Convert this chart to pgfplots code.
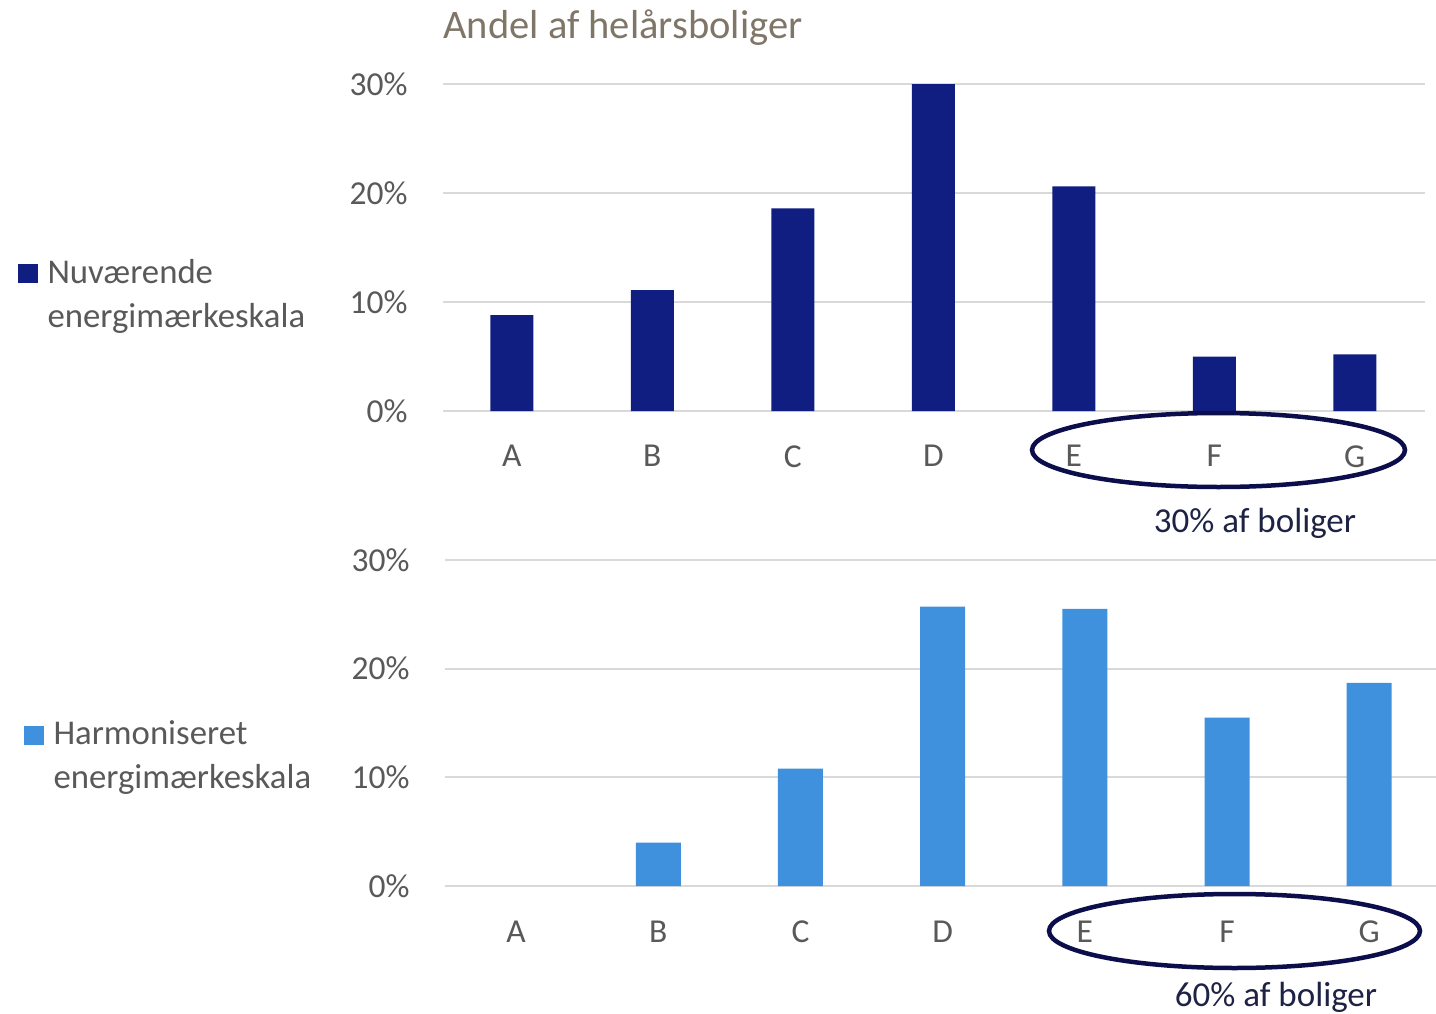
\documentclass[border=0pt]{standalone}
\usepackage{fontspec}
\setmainfont{Carlito}
\usepackage{pgfplots}
\pgfplotsset{compat=1.18}
\definecolor{navy}{HTML}{0F1E80}
\definecolor{lblue}{HTML}{3F91DE}
\definecolor{ticktxt}{HTML}{595959}
\definecolor{gridc}{HTML}{D9D9D9}
\definecolor{ttl}{HTML}{7F7668}
\definecolor{ell}{HTML}{0B0E4A}
\definecolor{ann}{HTML}{1E2346}
\begin{document}
\begin{tikzpicture}
\def\u{0.4pt}
\useasboundingbox (0,0) rectangle ({1436*\u},{-1014*\u});
\pgfplotsset{
 mybar/.style={
  ybar, scale only axis, ymin=0, ymax=30, ytick={0,10,20,30}, yticklabels={0\%,10\%,20\%,30\%},
  xtick={0,...,6}, xticklabels={A,B,C,D,E,F,G},
  axis line style={draw=none}, major tick length=0pt, ymajorgrids, grid style={gridc, line width=0.8pt},
  tick label style={font=\fontsize{13.4pt}{15pt}\selectfont, text=ticktxt, inner sep=0pt},
  yticklabel style={xshift=-14pt},
  xticklabel style={yshift=-13.6pt},
  enlargelimits=false, clip=false,
 }
}
\begin{axis}[mybar, at={({443*\u},{-411*\u})}, anchor=south west, width=392.8pt, height=130.8pt, xmin=-0.49, xmax=6.5, bar width=17.2pt]
\addplot[fill=navy, draw=none] coordinates {(0,8.8) (1,11.1) (2,18.6) (3,30) (4,20.6) (5,5.0) (6,5.2)};
\end{axis}
\begin{axis}[mybar, at={({445*\u},{-886*\u})}, anchor=south west, width=396.4pt, height=130.4pt, xmin=-0.5, xmax=6.47, bar width=18pt]
\addplot[fill=lblue, draw=none] coordinates {(1,4.0) (2,10.8) (3,25.7) (4,25.5) (5,15.5) (6,18.7)};
\end{axis}
\node[anchor=base west, inner sep=0pt, text=ttl, font=\fontsize{16.2pt}{19pt}\selectfont] at ({443*\u},{-38*\u}) {Andel af helårsboliger};
% legends
\fill[navy] ({18*\u},{-264*\u}) rectangle ({38*\u},{-283*\u});
\node[anchor=base west, inner sep=0pt, text=ticktxt, font=\fontsize{13.9pt}{16pt}\selectfont] at ({47*\u},{-283*\u}) {Nuværende};
\node[anchor=base west, inner sep=0pt, text=ticktxt, font=\fontsize{13.9pt}{16pt}\selectfont] at ({47*\u},{-327*\u}) {energimærkeskala};
\fill[lblue] ({24*\u},{-726*\u}) rectangle ({44*\u},{-745*\u});
\node[anchor=base west, inner sep=0pt, text=ticktxt, font=\fontsize{13.9pt}{16pt}\selectfont] at ({53*\u},{-744*\u}) {Harmoniseret};
\node[anchor=base west, inner sep=0pt, text=ticktxt, font=\fontsize{13.9pt}{16pt}\selectfont] at ({53*\u},{-788*\u}) {energimærkeskala};
% ellipses and annotations
\draw[ell, line width=1.8pt] ({1218.5*\u},{-450*\u}) ellipse [x radius={186.5*\u}, y radius={37*\u}];
\draw[ell, line width=1.8pt] ({1234.5*\u},{-931*\u}) ellipse [x radius={185.5*\u}, y radius={37*\u}];
\node[inner sep=0pt, text=ann, font=\fontsize{14pt}{16pt}\selectfont] at ({1255*\u},{-523*\u}) {30\% af boliger};
\node[inner sep=0pt, text=ann, font=\fontsize{14pt}{16pt}\selectfont] at ({1276*\u},{-997*\u}) {60\% af boliger};
\end{tikzpicture}
\end{document}
